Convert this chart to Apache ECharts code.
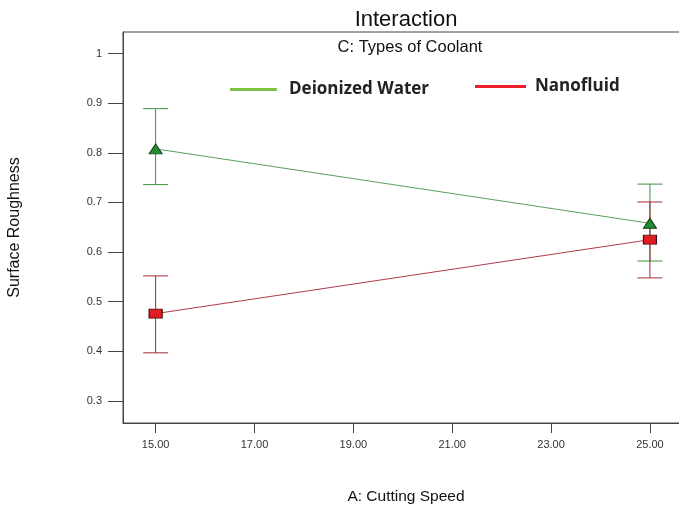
<!DOCTYPE html>
<html>
<head>
<meta charset="utf-8">
<script src="https://cdn.jsdelivr.net/npm/echarts@6/dist/echarts.min.js"></script>
<style>
  html, body { margin: 0; padding: 0; background: #fff; }
  #chart { width: 679px; height: 510px; }
</style>
</head>
<body>
<div id="chart"></div>
<script>
// cutting speed levels
const speeds = [15, 25];
// Deionized Water: mean and error bar ends
const diMean = [0.808, 0.658];
const diLow = [0.736, 0.582];
const diHigh = [0.889, 0.737];
// Nanofluid
const nfMean = [0.476, 0.625];
const nfLow = [0.397, 0.548];
const nfHigh = [0.552, 0.701];
// ticks
const xTicks = [15, 17, 19, 21, 23, 25];
const yTicks = [0.3, 0.4, 0.5, 0.6, 0.7, 0.8, 0.9, 1];

const font = 'Liberation Sans, Arial, sans-serif';

function errorSeries(low, high, color) {
    return {
        type: 'custom',
        silent: true,
        z: 2,
        data: speeds.map((s, i) => [s, low[i], high[i]]),
        renderItem: function (params, api) {
            const lo = api.coord([api.value(0), api.value(1)]);
            const hi = api.coord([api.value(0), api.value(2)]);
            const half = 12.5;
            const style = { stroke: color, lineWidth: 1 };
            return {
                type: 'group',
                children: [
                    { type: 'line', shape: { x1: lo[0], y1: lo[1], x2: hi[0], y2: hi[1] }, style: style },
                    { type: 'line', shape: { x1: lo[0] - half, y1: lo[1], x2: lo[0] + half, y2: lo[1] }, style: style },
                    { type: 'line', shape: { x1: hi[0] - half, y1: hi[1], x2: hi[0] + half, y2: hi[1] }, style: style }
                ]
            };
        }
    };
}

const chart = echarts.init(document.getElementById('chart'));
const option = {
    animation: false,
    title: [
        { text: 'Interaction', left: 401, top: 4, textAlign: 'center',
          textStyle: { fontFamily: font, fontSize: 22, fontWeight: 'normal', color: '#111' } },
        { text: 'C: Types of Coolant', left: 405, top: 34, textAlign: 'center',
          textStyle: { fontFamily: font, fontSize: 16.5, fontWeight: 'normal', color: '#111' } }
    ],
    legend: [
        {
            left: 225, top: 76, itemWidth: 47, itemHeight: 3, icon: 'rect',
            data: [{ name: 'Deionized Water', itemStyle: { color: '#7dc242', borderWidth: 0 } }],
            textStyle: { fontFamily: 'Open Sans', fontWeight: 'bold', fontSize: 17, color: '#222', padding: [0, 0, 0, 7] }
        },
        {
            left: 470, top: 73, itemWidth: 51, itemHeight: 3, icon: 'rect',
            data: [{ name: 'Nanofluid', itemStyle: { color: '#e8202a', borderWidth: 0 } }],
            textStyle: { fontFamily: 'Open Sans', fontWeight: 'bold', fontSize: 17, color: '#222', padding: [0, 0, 0, 4] }
        }
    ],
    grid: {
        left: 123, top: 32, right: -10, bottom: 87,
        outerBoundsMode: 'none',
        show: true, borderColor: '#444', borderWidth: 1, backgroundColor: '#fff'
    },
    xAxis: {
        type: 'value',
        min: 14.34, max: 25.79,
        name: 'A: Cutting Speed',
        nameLocation: 'middle',
        nameGap: 66,
        nameTextStyle: { fontFamily: font, fontSize: 15.5, color: '#111' },
        axisLine: { show: true, lineStyle: { color: '#444' } },
        axisTick: { show: true, customValues: xTicks, length: 10, lineStyle: { color: '#444' } },
        axisLabel: { customValues: xTicks, formatter: v => v.toFixed(2), fontFamily: font, fontSize: 11, color: '#333', margin: 16 },
        splitLine: { show: false }
    },
    yAxis: {
        type: 'value',
        min: 0.2556, max: 1.0435,
        name: 'Surface Roughness',
        nameLocation: 'middle',
        nameGap: 100,
        nameRotate: 90,
        nameTextStyle: { fontFamily: font, fontSize: 16, color: '#111' },
        axisLine: { show: true, lineStyle: { color: '#444' } },
        axisTick: { show: true, customValues: yTicks, length: 15, lineStyle: { color: '#444' } },
        axisLabel: { customValues: yTicks, formatter: v => String(+v.toFixed(1)), fontFamily: font, fontSize: 11, color: '#333', margin: 21 },
        splitLine: { show: false }
    },
    series: [
        errorSeries(diLow, diHigh, '#3f8f3f'),
        errorSeries(nfLow, nfHigh, '#a52a35'),
        {
            name: 'Deionized Water',
            type: 'line',
            z: 3,
            data: speeds.map((s, i) => [s, diMean[i]]),
            symbol: 'triangle',
            symbolSize: [13, 10],
            lineStyle: { color: '#5a9e5a', width: 1 },
            itemStyle: { color: '#1f8f32', borderColor: '#173d1a', borderWidth: 1 }
        },
        {
            name: 'Nanofluid',
            type: 'line',
            z: 3,
            data: speeds.map((s, i) => [s, nfMean[i]]),
            symbol: 'rect',
            symbolSize: [13, 9],
            lineStyle: { color: '#b03a4a', width: 1 },
            itemStyle: { color: '#e31b23', borderColor: '#3d1010', borderWidth: 1 }
        }
    ]
};
chart.setOption(option);
</script>
</body>
</html>
